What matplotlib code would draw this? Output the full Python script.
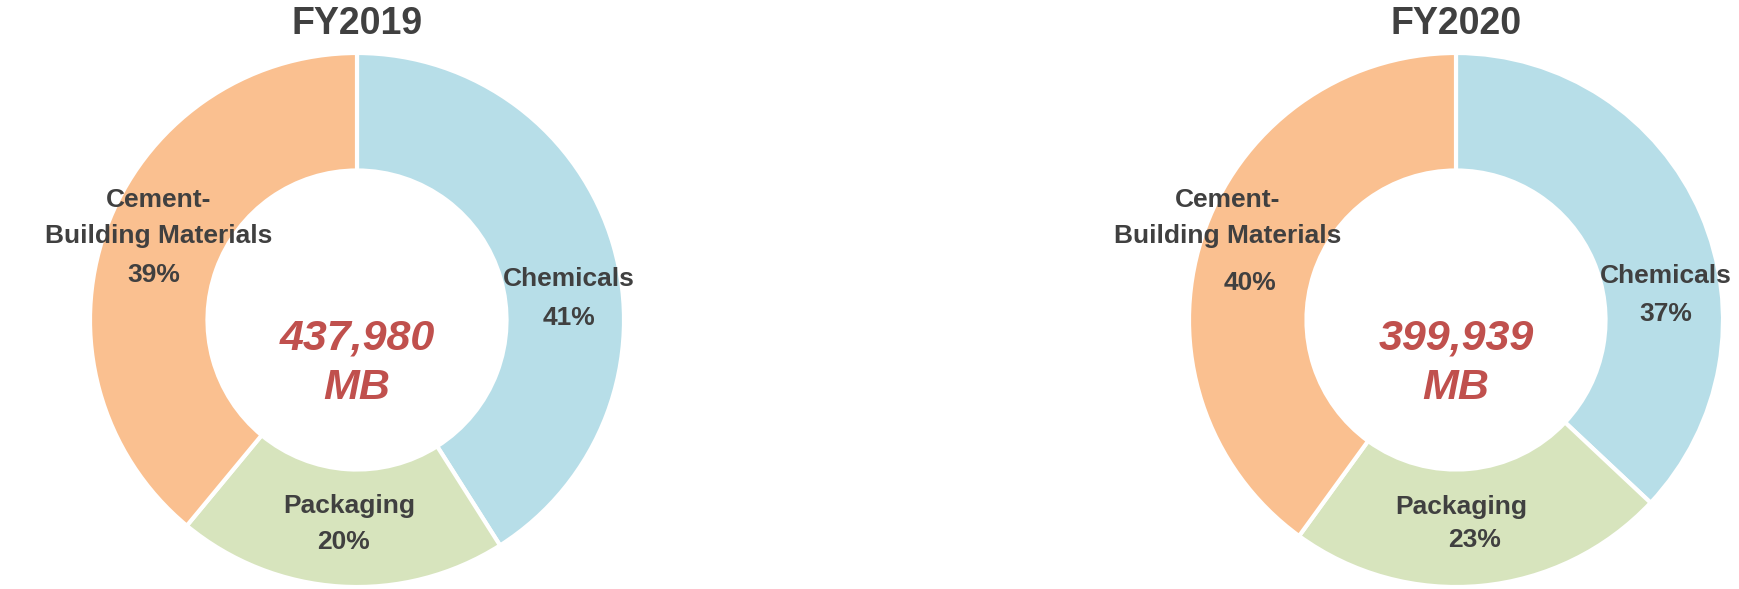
import matplotlib
matplotlib.use("Agg")
import matplotlib.pyplot as plt

# ---- data ----
titles = ["FY2019", "FY2020"]
categories = ["Chemicals", "Packaging", "Cement-\nBuilding Materials"]
shares_2019 = [41, 20, 39]
shares_2020 = [37, 23, 40]
totals = ["437,980", "399,939"]
unit = "MB"

colors = ["#B7DEE8", "#D7E4BD", "#FAC090"]
text_col = "#404040"
red = "#C0504D"

plt.rcParams['font.family'] = ['Liberation Sans', 'DejaVu Sans']

W, H = 1739, 589
fig = plt.figure(figsize=(W / 100, H / 100), dpi=100)

R = 267  # outer radius in px
centers = [(357, 320), (1456, 320)]
# label anchor positions in pixels (name center, pct center) per chart, per category
name_pos = [
    [(569, 279), (349, 506), (159, 218)],
    [(1666, 276), (1461, 507), (1228, 218)],
]
pct_pos = [
    [(569, 318), (344, 542), (154, 275)],
    [(1666, 314), (1475, 540), (1250, 283)],
]

for k, shares in enumerate([shares_2019, shares_2020]):
    cx, cy = centers[k]
    ax = fig.add_axes([(cx - R) / W, (H - cy - R) / H, 2 * R / W, 2 * R / H])
    ax.pie(shares, colors=colors, startangle=90, counterclock=False, radius=1.0,
           wedgeprops=dict(width=0.44, edgecolor="white", linewidth=3))
    ax.set_xlim(-1, 1)
    ax.set_ylim(-1, 1)
    ax.set_aspect("equal")
    ax.axis("off")

    def to_data(p):
        return ((p[0] - cx) / R, (cy - p[1]) / R)

    for i, cat in enumerate(categories):
        x, y = to_data(name_pos[k][i])
        ax.text(x, y, cat, ha="center", va="center", fontsize=19, fontweight="bold",
                color=text_col, linespacing=1.6)
        x, y = to_data(pct_pos[k][i])
        ax.text(x, y, f"{shares[i]}%", ha="center", va="center", fontsize=19,
                fontweight="bold", color=text_col)

    x, y = to_data((cx, 338))
    ax.text(x, y, totals[k], ha="center", va="center", fontsize=31, fontweight="bold",
            fontstyle="italic", color=red)
    x, y = to_data((cx, 388))
    ax.text(x, y, unit, ha="center", va="center", fontsize=31, fontweight="bold",
            fontstyle="italic", color=red)

    fig.text(cx / W, 1 - 24 / H, titles[k], ha="center", va="center", fontsize=27,
             fontweight="bold", color=text_col)

fig.savefig("out.png", dpi=100, facecolor="white")
